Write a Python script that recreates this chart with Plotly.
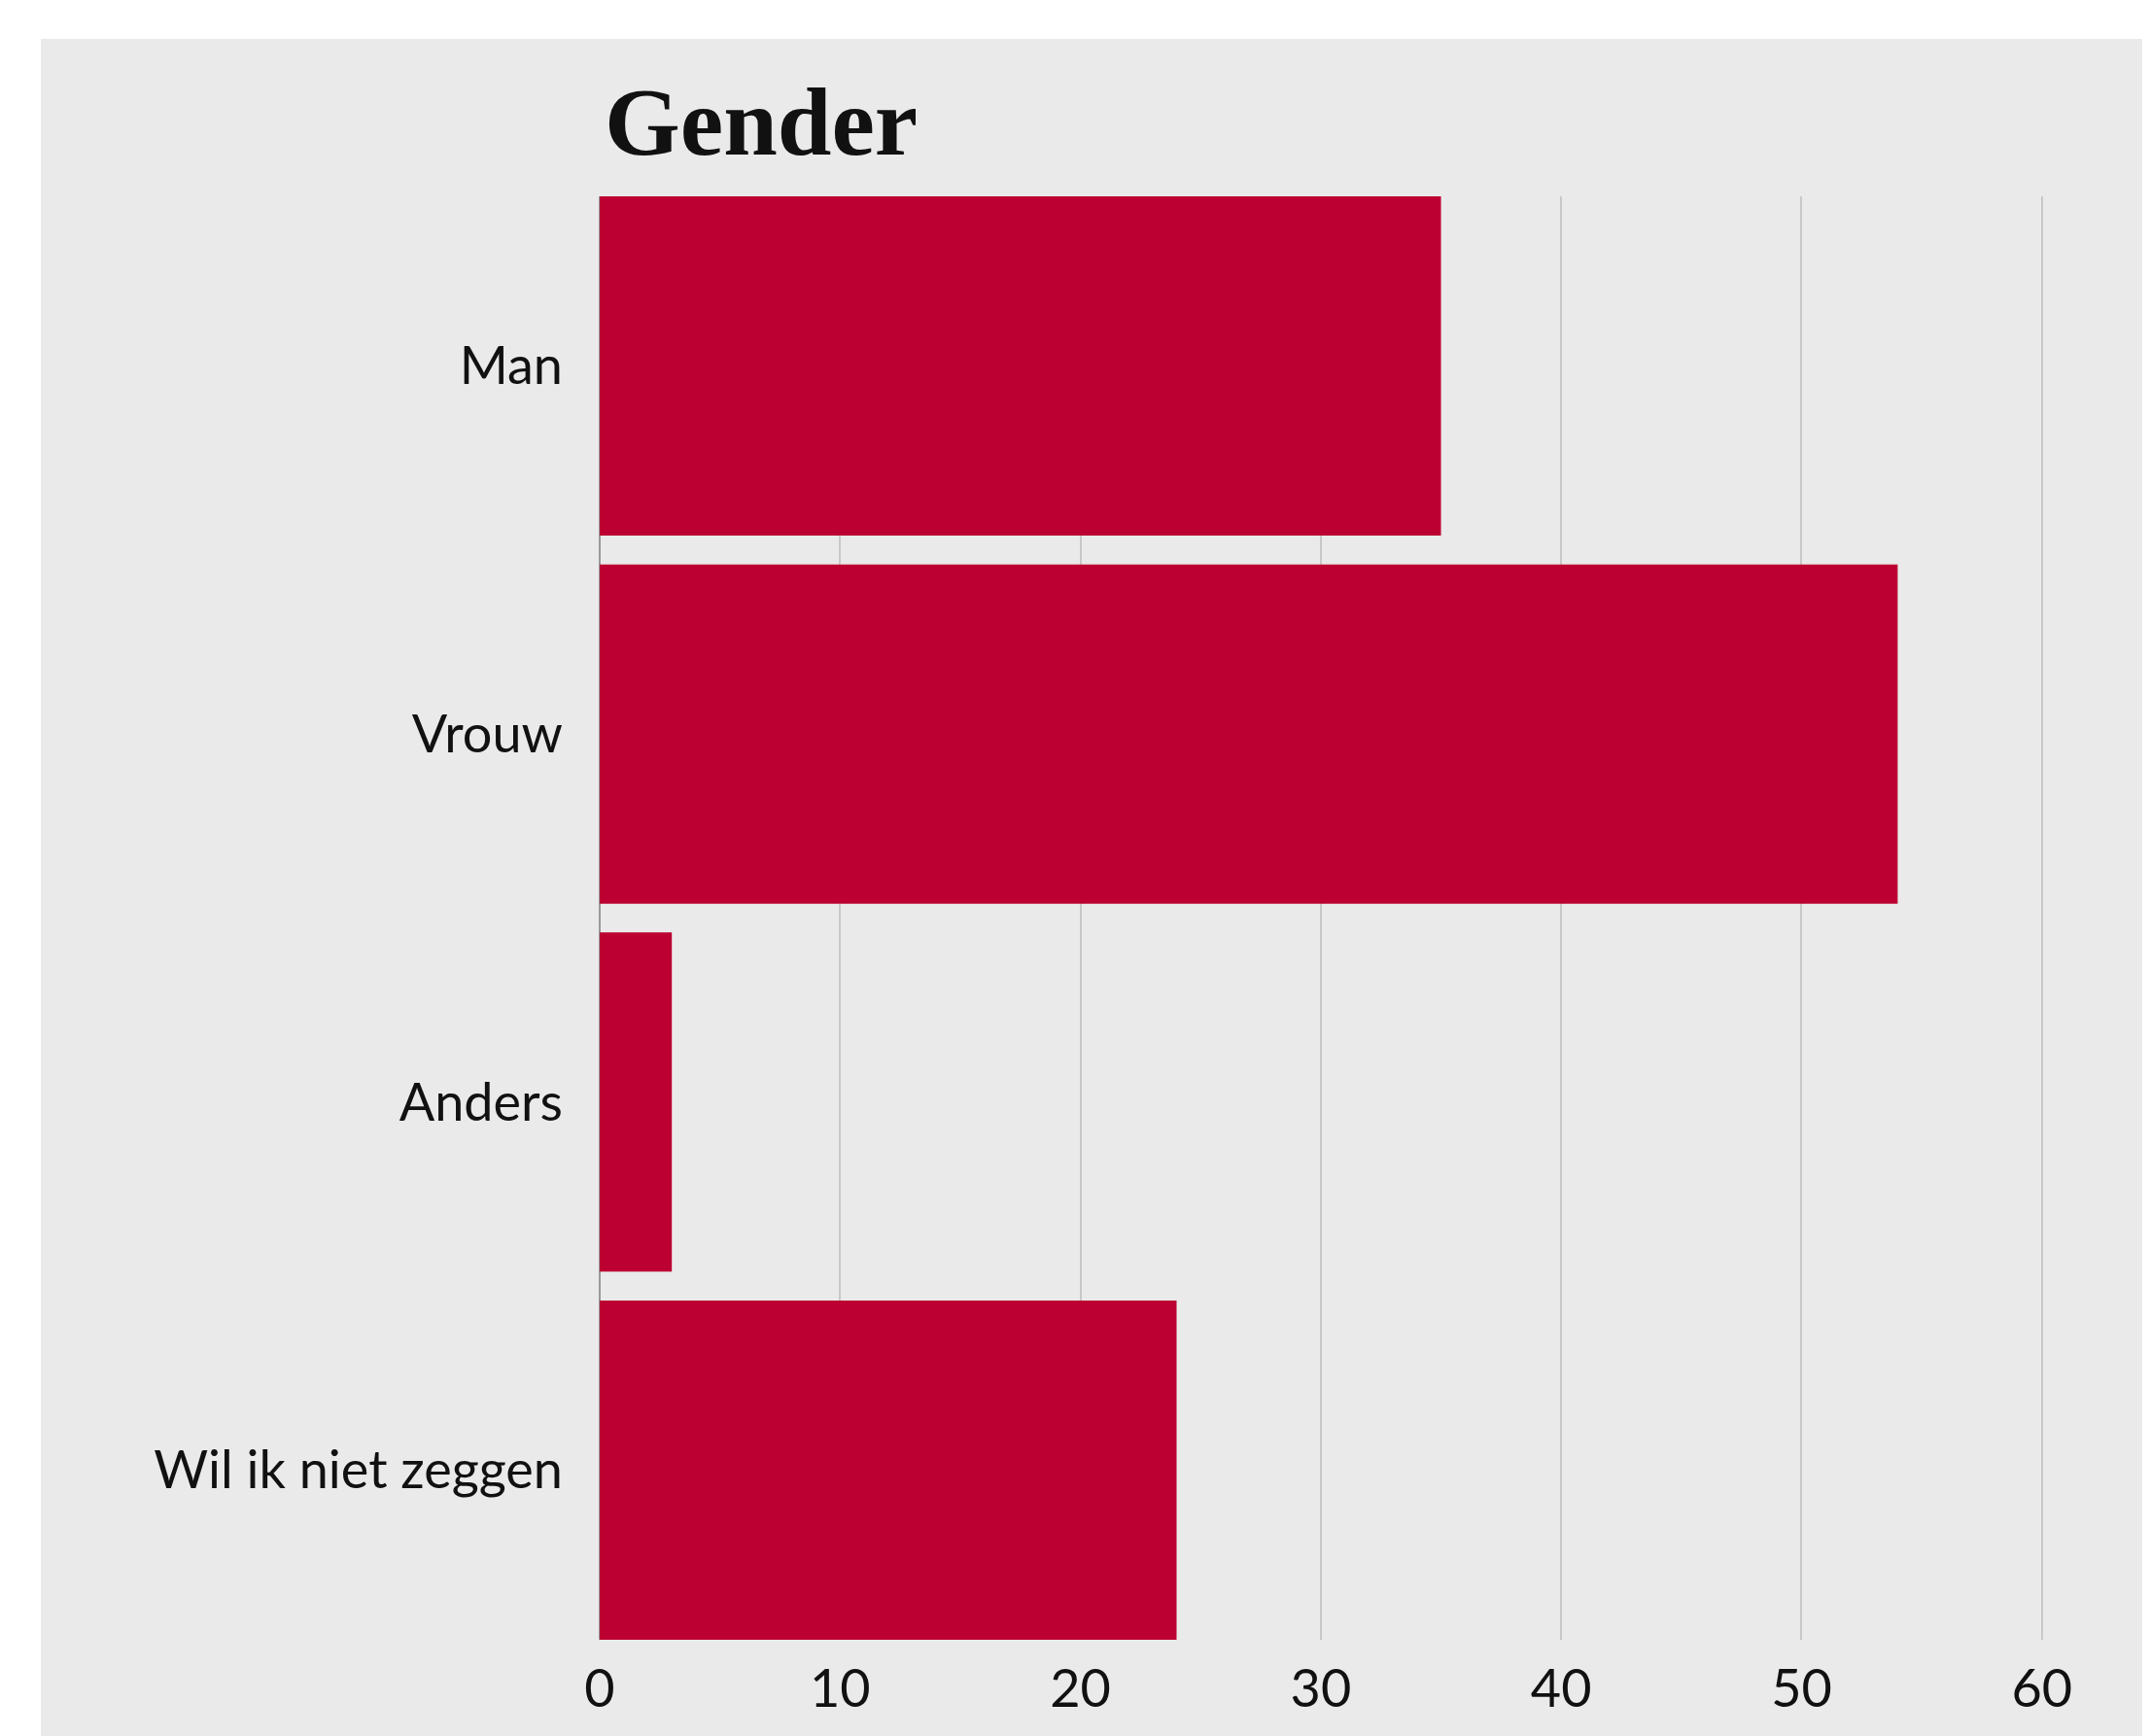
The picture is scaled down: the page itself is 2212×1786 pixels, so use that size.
import plotly.graph_objects as go

categories = ["Man", "Vrouw", "Anders", "Wil ik niet zeggen"]
values = [35, 54, 3, 24]
x_tickvals = [0, 10, 20, 30, 40, 50, 60]
title_text = "Gender"

W, H = 2212, 1786
OFF = 8  # default page body margin
ML, MR, MT, MB = 617 - OFF, 110 + OFF, 202 - OFF, 99 + OFF
PW, PH = W - ML - MR, H - MT - MB

BAR = "#BC0031"
BG = "#EAEAEA"
FONT = "Lato, 'Source Sans Pro', sans-serif"

fig = go.Figure(
    go.Bar(
        x=values,
        y=categories,
        orientation="h",
        marker=dict(color=BAR, line=dict(width=0)),
        hoverinfo="x+y",
    )
)

bargap = 0.078
w = 1 - bargap
fig.update_layout(
    width=W,
    height=H,
    margin=dict(l=ML, r=MR, t=MT, b=MB, pad=0),
    paper_bgcolor="white",
    plot_bgcolor=BG,
    bargap=bargap,
    showlegend=False,
    font=dict(family=FONT, size=54, color="#111111"),
    xaxis=dict(
        range=[0, 60.05],
        tickvals=x_tickvals,
        showgrid=True,
        gridcolor="#C8C8C8",
        gridwidth=2,
        zeroline=True,
        zerolinecolor="#999999",
        zerolinewidth=2,
        showline=False,
        ticks="",
        ticklabelstandoff=14,
        tickfont=dict(size=54),
    ),
    yaxis=dict(
        categoryorder="array",
        categoryarray=categories,
        range=[len(categories) - 1 + w / 2, -w / 2],
        showgrid=False,
        zeroline=False,
        showline=False,
        ticks="",
        ticklabelstandoff=37,
        tickfont=dict(size=54),
    ),
    shapes=[
        dict(
            type="rect",
            xref="paper",
            yref="paper",
            x0=(42 - OFF - ML) / PW,
            x1=(W - ML + 20) / PW,
            y0=-(MB + 40) / PH,
            y1=1 + (MT - (40 - OFF)) / PH,
            fillcolor=BG,
            line=dict(width=0),
            layer="below",
        )
    ],
    annotations=[
        dict(
            text="<b>" + title_text + "</b>",
            xref="paper",
            yref="paper",
            x=(620 - 8 - ML) / PW,
            y=1 + (MT - (126 - OFF)) / PH,
            xanchor="left",
            yanchor="middle",
            showarrow=False,
            font=dict(family="'Liberation Serif', 'DejaVu Serif', serif", size=100, color="#111111"),
        )
    ],
)

fig.write_html("out.html")
